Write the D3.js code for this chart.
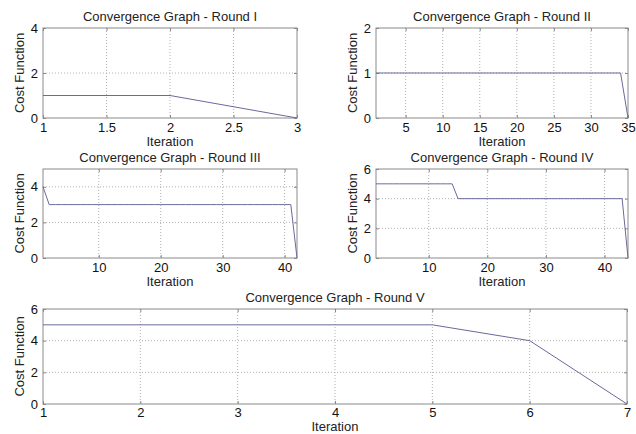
<!DOCTYPE html>
<html>
<head>
<meta charset="utf-8">
<script src="https://cdn.jsdelivr.net/npm/d3@7"></script>
<style>
  body { margin: 0; background: #fff; }
  svg { font-family: "Liberation Sans", Arial, sans-serif; }
  .grid line { stroke: #b0b0b0; stroke-dasharray: 1,2; }
</style>
</head>
<body>
<svg id="chart" width="636" height="434"></svg>
<script>
// cost function per iteration (iteration = index + 1)
const round1Cost = [1, 1, 0];
const round2Cost = [1, 1, 1, 1, 1, 1, 1, 1, 1, 1, 1, 1, 1, 1, 1, 1, 1, 1, 1, 1,
  1, 1, 1, 1, 1, 1, 1, 1, 1, 1, 1, 1, 1, 1, 0];
const round3Cost = [4, 3, 3, 3, 3, 3, 3, 3, 3, 3, 3, 3, 3, 3, 3, 3, 3, 3, 3, 3,
  3, 3, 3, 3, 3, 3, 3, 3, 3, 3, 3, 3, 3, 3, 3, 3, 3, 3, 3, 3, 3, 0];
const round4Cost = [5, 5, 5, 5, 5, 5, 5, 5, 5, 5, 5, 5, 5, 5, 4, 4, 4, 4, 4, 4,
  4, 4, 4, 4, 4, 4, 4, 4, 4, 4, 4, 4, 4, 4, 4, 4, 4, 4, 4, 4, 4, 4, 4, 0];
const round5Cost = [5, 5, 5, 5, 5, 4, 0];

const titles = ["Convergence Graph - Round I", "Convergence Graph - Round II",
  "Convergence Graph - Round III", "Convergence Graph - Round IV",
  "Convergence Graph - Round V"];

const xTicks1 = [1, 1.5, 2, 2.5, 3];
const xTicks2 = [5, 10, 15, 20, 25, 30, 35];
const xTicks3 = [10, 20, 30, 40];
const xTicks4 = [10, 20, 30, 40];
const xTicks5 = [1, 2, 3, 4, 5, 6, 7];

const yTicks1 = [0, 2, 4];
const yTicks2 = [0, 1, 2];
const yTicks3 = [0, 2, 4];
const yTicks4 = [0, 2, 4, 6];
const yTicks5 = [0, 2, 4, 6];

const panels = [
  {cost: round1Cost, title: titles[0], xt: xTicks1, yt: yTicks1, yMax: 4, box: [43, 28, 297, 118], pad: 5, lab: 28},
  {cost: round2Cost, title: titles[1], xt: xTicks2, yt: yTicks2, yMax: 2, box: [376, 28, 628, 118], pad: 5, lab: 28},
  {cost: round3Cost, title: titles[2], xt: xTicks3, yt: yTicks3, yMax: 5, box: [43, 169, 297, 258], pad: 5, lab: 28},
  {cost: round4Cost, title: titles[3], xt: xTicks4, yt: yTicks4, yMax: 6, box: [376, 169, 628, 258], pad: 5, lab: 28},
  {cost: round5Cost, title: titles[4], xt: xTicks5, yt: yTicks5, yMax: 6, box: [43, 309, 627, 404], pad: 4, lab: 27}
];

const svg = d3.select("#chart");

panels.forEach(p => {
  const [x0, y0, x1, y1] = p.box;
  const x = d3.scaleLinear().domain([1, p.cost.length]).range([x0, x1]);
  const y = d3.scaleLinear().domain([0, p.yMax]).range([y1, y0]);
  const g = svg.append("g");

  // dotted grid
  g.append("g").attr("class", "grid")
    .selectAll("line").data(p.xt.filter(t => t > 1 && t < p.cost.length)).join("line")
    .attr("x1", d => x(d)).attr("x2", d => x(d)).attr("y1", y0).attr("y2", y1);
  g.append("g").attr("class", "grid")
    .selectAll("line").data(p.yt.filter(t => t > 0 && t < p.yMax)).join("line")
    .attr("x1", x0).attr("x2", x1).attr("y1", d => y(d)).attr("y2", d => y(d));

  // axes
  g.append("g").attr("transform", `translate(0,${y1})`)
    .call(d3.axisBottom(x).tickValues(p.xt).tickFormat(d => d).tickSize(-3).tickPadding(p.pad).tickSizeOuter(0))
    .call(a => a.select(".domain").remove());
  g.append("g").attr("transform", `translate(${x0},0)`)
    .call(d3.axisLeft(y).tickValues(p.yt).tickFormat(d => d).tickSize(-3).tickPadding(5).tickSizeOuter(0))
    .call(a => a.select(".domain").remove());
  g.append("g").attr("transform", `translate(${x1},0)`)
    .call(d3.axisRight(y).tickValues(p.yt).tickSize(-3).tickFormat(""))
    .call(a => a.select(".domain").remove());
  g.append("g").attr("transform", `translate(0,${y0})`)
    .call(d3.axisTop(x).tickValues(p.xt).tickSize(-3).tickFormat(""))
    .call(a => a.select(".domain").remove());
  g.selectAll(".tick line").attr("stroke", "#888");
  g.selectAll(".tick text").attr("font-size", 13).attr("fill", "#111")
    .attr("font-family", "Liberation Sans, Arial, sans-serif");

  g.append("rect").attr("x", x0).attr("y", y0)
    .attr("width", x1 - x0).attr("height", y1 - y0)
    .attr("fill", "none").attr("stroke", "#8a8a8a");

  // cost line
  g.append("path").datum(p.cost)
    .attr("fill", "none").attr("stroke", "#6a6a9c").attr("stroke-width", 1)
    .attr("d", d3.line().x((d, i) => x(i + 1)).y(d => y(d)));

  // labels
  g.append("text").attr("x", (x0 + x1) / 2).attr("y", y0 - 7)
    .attr("text-anchor", "middle").attr("font-size", 13).attr("fill", "#222")
    .text(p.title);
  g.append("text").attr("x", (x0 + x1) / 2).attr("y", y1 + p.lab)
    .attr("text-anchor", "middle").attr("font-size", 13).attr("fill", "#222")
    .text("Iteration");
  g.append("text")
    .attr("transform", `translate(${x0 - 19},${(y0 + y1) / 2}) rotate(-90)`)
    .attr("text-anchor", "middle").attr("font-size", 13).attr("fill", "#222")
    .text("Cost Function");
});
</script>
</body>
</html>
